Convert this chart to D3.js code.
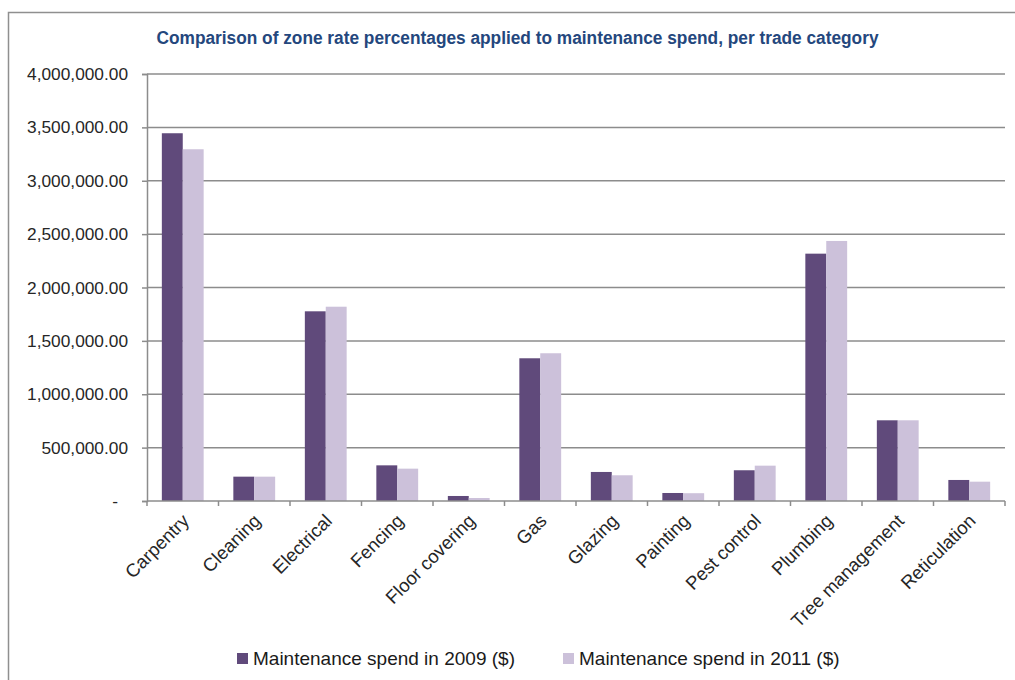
<!DOCTYPE html>
<html>
<head>
<meta charset="utf-8">
<script src="https://cdn.jsdelivr.net/npm/d3@7"></script>
<style>
  html, body { margin: 0; padding: 0; background: #fff; }
  svg { display: block; }
</style>
</head>
<body>
<svg id="chart" width="1015" height="680"></svg>
<script>
// Trade categories and spend per year (AUD)
const categories = ["Carpentry", "Cleaning", "Electrical", "Fencing", "Floor covering", "Gas",
  "Glazing", "Painting", "Pest control", "Plumbing", "Tree management", "Reticulation"];
const spend2009 = [3445000, 228000, 1777000, 334000, 47000, 1337000,
  272000, 75000, 288000, 2317000, 756000, 197000];
const spend2011 = [3295000, 228000, 1820000, 303000, 28000, 1384000,
  241000, 73000, 331000, 2436000, 756000, 181000];
const seriesNames = ["Maintenance spend in 2009 ($)", "Maintenance spend in 2011 ($)"];
const yTicks = [0, 500000, 1000000, 1500000, 2000000, 2500000, 3000000, 3500000, 4000000];

const colors = ["#604a7b", "#ccc1da"];
const svg = d3.select("#chart");
const W = 1015, H = 680;
const plot = { left: 147, right: 1005, top: 74, bottom: 501 };
const font = "'Liberation Sans', Arial, sans-serif";

// outer chart frame
svg.append("rect")
  .attr("x", 8.5).attr("y", 12.5)
  .attr("width", W + 20).attr("height", H + 20)
  .attr("fill", "none").attr("stroke", "#8f8f8f").attr("stroke-width", 1.5);

// title
svg.append("text")
  .attr("x", 517.5).attr("y", 44)
  .attr("text-anchor", "middle")
  .attr("font-family", font)
  .attr("font-weight", "bold")
  .attr("font-size", 17.5)
  .attr("fill", "#24477d")
  .attr("textLength", 722)
  .attr("lengthAdjust", "spacingAndGlyphs")
  .text("Comparison of zone rate percentages applied to maintenance spend, per trade category");

const x0 = d3.scaleBand().domain(categories).range([plot.left, plot.right]).paddingInner(0).paddingOuter(0);
const x1 = d3.scaleBand().domain([0, 1]).range([0, x0.bandwidth()]).paddingOuter(0.71).paddingInner(0);
const y = d3.scaleLinear().domain([0, 4000000]).range([plot.bottom, plot.top]);

// horizontal gridlines
svg.append("g").selectAll("line").data(yTicks.slice(1)).join("line")
  .attr("x1", plot.left).attr("x2", plot.right)
  .attr("y1", d => y(d)).attr("y2", d => y(d))
  .attr("stroke", "#8c8c8c").attr("stroke-width", 1.5);

// y axis
const fmt = d => d === 0 ? "-" : d3.format(",.2f")(d);
const yAxis = svg.append("g")
  .attr("transform", `translate(${plot.left},0)`)
  .call(d3.axisLeft(y).tickValues(yTicks).tickFormat(fmt).tickSize(5).tickPadding(14));
yAxis.select(".domain").attr("stroke", "#8c8c8c").attr("stroke-width", 1.5);
yAxis.selectAll(".tick line").attr("stroke", "#8c8c8c").attr("stroke-width", 1.5);
yAxis.selectAll(".tick text")
  .attr("font-family", font)
  .attr("font-size", 17.3).attr("fill", "#262626");
yAxis.selectAll(".tick").filter(d => d === 0).select("text").attr("dx", -10);

// bars
const series = [spend2009, spend2011];
const groups = svg.append("g").selectAll("g").data(categories).join("g")
  .attr("transform", d => `translate(${x0(d)},0)`);
groups.selectAll("rect").data((d, i) => series.map((s, k) => ({ k, v: s[i] }))).join("rect")
  .attr("x", d => x1(d.k))
  .attr("width", x1.bandwidth())
  .attr("y", d => y(d.v))
  .attr("height", d => y(0) - y(d.v))
  .attr("fill", d => colors[d.k]);

// x axis with category-boundary ticks
const xg = svg.append("g");
xg.append("line")
  .attr("x1", plot.left).attr("x2", plot.right)
  .attr("y1", plot.bottom).attr("y2", plot.bottom)
  .attr("stroke", "#8c8c8c").attr("stroke-width", 1.5);
const boundaries = categories.map(c => x0(c)).concat([plot.right]);
xg.selectAll("line.tk").data(boundaries).join("line").attr("class", "tk")
  .attr("x1", d => d).attr("x2", d => d)
  .attr("y1", plot.bottom).attr("y2", plot.bottom + 5)
  .attr("stroke", "#8c8c8c").attr("stroke-width", 1.5);
xg.selectAll("text").data(categories).join("text")
  .attr("transform", d => `translate(${x0(d) + x0.bandwidth() / 2 + 7.5},${plot.bottom + 21}) rotate(-45)`)
  .attr("text-anchor", "end")
  .attr("font-family", font)
  .attr("font-size", 18.5).attr("fill", "#262626")
  .text(d => d);

// legend
const legendX = [237, 563];
const lg = svg.append("g").selectAll("g").data(seriesNames).join("g")
  .attr("transform", (d, i) => `translate(${legendX[i]},653)`);
lg.append("rect").attr("width", 11).attr("height", 11).attr("fill", (d, i) => colors[i]);
lg.append("text")
  .attr("x", 16).attr("y", 12)
  .attr("font-family", font)
  .attr("font-size", 19).attr("fill", "#1a1a1a")
  .text(d => d);
</script>
</body>
</html>
